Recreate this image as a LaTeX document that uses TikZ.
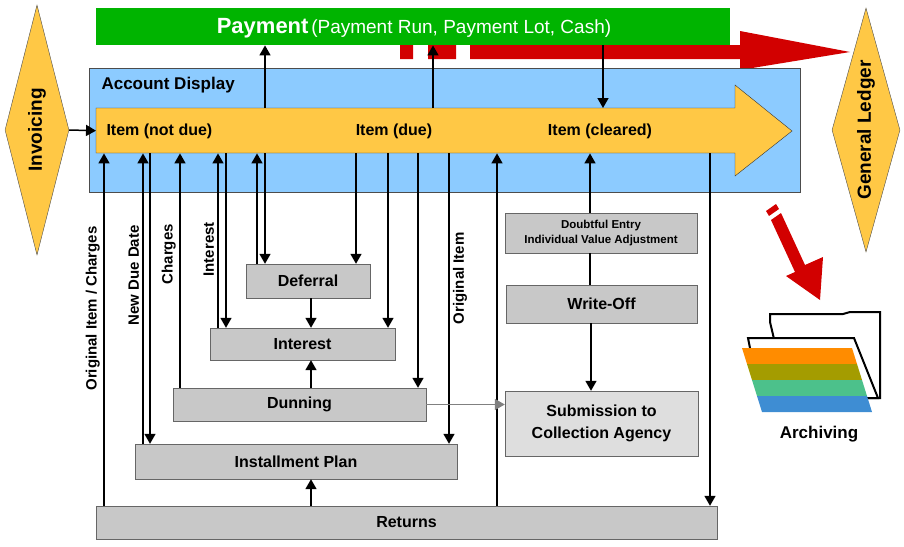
\documentclass[tikz,border=0pt]{standalone}
\usepackage{fontspec}
\setmainfont{Liberation Sans}
\usetikzlibrary{shapes.geometric,arrows.meta}
\definecolor{gold}{HTML}{FFC845}
\definecolor{skyblue}{HTML}{8CCBFF}
\definecolor{payg}{HTML}{00B400}
\definecolor{boxgray}{HTML}{C8C8C8}
\definecolor{darkred}{HTML}{D20000}
\tikzset{
  proc/.style={draw=gray!80!black,fill=boxgray,font=\bfseries\fontsize{16}{18}\selectfont,inner sep=0pt},
  flow/.style={-{Triangle[length=10pt,width=11pt]},line width=1.5pt},
  side/.style={rotate=90,font=\bfseries\fontsize{15}{17}\selectfont},
  ledger/.style={diamond,draw=black!70,fill=gold,aspect=0.27,inner sep=0pt}
}
\begin{document}
\begin{tikzpicture}[x=1pt,y=-1pt]
\useasboundingbox (0,0) rectangle (904,546);
% Side diamonds
\node[ledger,minimum width=64,minimum height=250] (inv) at (37,130) {};
\node[rotate=90,font=\bfseries\fontsize{19}{22}\selectfont] at (inv.center) {Invoicing};
\node[ledger,minimum width=68,minimum height=244] (gl) at (866,130) {};
\node[rotate=90,font=\bfseries\fontsize{19}{22}\selectfont] at (gl.center) {General Ledger};

% Payment bar and red transfer arrow
\node[fill=payg,minimum width=634,minimum height=37,inner sep=0pt,anchor=north west] (pay) at (96,8) {};
\node[white] at (414,28) {{\fontsize{22}{22}\selectfont\bfseries Payment}\ {\fontsize{19}{20}\selectfont(Payment Run, Payment Lot, Cash)}};
\fill[darkred] (400,45) rectangle (413,59) (428,45) rectangle (456,59)
  (470,45) -- (740,45) -- (740,31) -- (850,52) -- (740,70) -- (740,59) -- (470,59) -- cycle;

% Account display
\node[draw=black!70,fill=skyblue,minimum width=711,minimum height=124,inner sep=0pt,anchor=north west] (acc) at (89,68) {};
\node[anchor=west,font=\bfseries\fontsize{17}{20}\selectfont] at (98,85) {Account Display};
\draw[black!80,fill=gold] (96,108) -- (735,108) -- (735,85) -- (792,131) -- (735,176) -- (735,153) -- (96,153) -- cycle;
\node[minimum width=639,minimum height=45,inner sep=0pt,anchor=north west] (item) at (96,108) {};
\node[anchor=west,font=\bfseries\fontsize{16}{18}\selectfont] at (103,131) {Item (not due)};
\node[font=\bfseries\fontsize{16}{18}\selectfont] at (394,131) {Item (due)};
\node[font=\bfseries\fontsize{16}{18}\selectfont] at (600,131) {Item (cleared)};

% Process boxes
\node[proc,minimum width=124,minimum height=34] (def) at (308,281) {Deferral};
\node[proc,minimum width=185,minimum height=32] (int) at (302.5,344) {Interest};
\node[proc,minimum width=253,minimum height=33] (dun) at (299.5,404.5) {Dunning};
\node[proc,minimum width=322,minimum height=35] (inst) at (296,461.5) {Installment Plan};
\node[proc,minimum width=621,minimum height=33] (ret) at (406.5,522.5) {Returns};
\node[proc,minimum width=192,minimum height=40,align=center,font=\bfseries\fontsize{11.5}{15}\selectfont] (doubt) at (601,233) {Doubtful Entry\\Individual Value Adjustment};
\node[proc,minimum width=191,minimum height=38] (wo) at (601.5,304) {Write-Off};
\node[proc,fill=boxgray!60,minimum width=193,minimum height=65,align=center,font=\bfseries\fontsize{16}{22}\selectfont] (sub) at (601.5,423.5) {Submission to\\Collection Agency};

% Connectors
\draw[flow] (inv.east) -- (item.west);
\draw[flow] (item.north -| 265,0) -- (pay.south -| 265,0);
\draw[flow] (item.north -| 433,0) -- (pay.south -| 433,0);
\draw[flow] (pay.south -| 603,0) -- (item.north -| 603,0);
\draw[flow] (ret.north -| 104,0) -- (item.south -| 104,0) node[side,pos=0.56,above] {Original Item / Charges};
\draw[flow] (inst.north -| 143,0) -- (item.south -| 143,0) node[side,pos=0.58,above] {New Due Date};
\draw[flow] (item.south -| 150,0) -- (inst.north -| 150,0);
\draw[flow] (dun.north -| 180,0) -- (item.south -| 180,0) node[side,pos=0.57,above] {Charges};
\draw[flow] (int.north -| 218,0) -- (item.south -| 218,0) node[side,pos=0.45,above] {Interest};
\draw[flow] (item.south -| 226,0) -- (int.north -| 226,0);
\draw[flow] (def.north -| 257,0) -- (item.south -| 257,0);
\draw[flow] (item.south -| 265,0) -- (def.north -| 265,0);
\draw[flow] (item.south -| 356,0) -- (def.north -| 356,0);
\draw[flow] (item.south -| 388,0) -- (int.north -| 388,0);
\draw[flow] (item.south -| 418,0) -- (dun.north -| 418,0);
\draw[flow] (item.south -| 449,0) -- (inst.north -| 449,0) node[side,pos=0.43,below] {Original Item};
\draw[flow] (ret.north -| 497,0) -- (item.south -| 497,0);
\draw[flow] (doubt.north -| 590,0) -- (item.south -| 590,0);
\draw[flow] (item.south -| 710,0) -- (ret.north -| 710,0);
\draw[flow] (def.south -| 311,0) -- (int.north -| 311,0);
\draw[flow] (dun.north -| 311,0) -- (int.south -| 311,0);
\draw[flow] (ret.north -| 311,0) -- (inst.south -| 311,0);
\draw[line width=1.5pt] (doubt.south -| 590,0) -- (wo.north -| 590,0);
\draw[flow] (wo.south -| 591,0) -- (sub.north -| 591,0);
\draw[flow,gray] (dun.east) -- (sub.west |- dun.east);

% Archiving
\fill[darkred] (766,211) -- (776,204) -- (779,209) -- (769,216) -- cycle
  (771,220) -- (781,213) -- (805,265) -- (823,257) -- (820,300) -- (786,276) -- (795,272) -- cycle;
\draw[line width=2pt,fill=white] (770,322) -- (770,314) -- (843,314) -- (850,312) -- (880,312) -- (880,398) -- (788,398) -- cycle;
\draw[line width=2pt,fill=white] (748,338) -- (854,338) -- (878,398) -- (760,398) -- cycle;
\fill[orange!90!yellow] (742,348) -- (852,348) -- (857,364) -- (747,364) -- cycle;
\fill[olive!80!yellow] (747,364) -- (857,364) -- (862,380) -- (752,380) -- cycle;
\fill[teal!70!green!70] (752,380) -- (862,380) -- (867,396) -- (757,396) -- cycle;
\fill[cyan!60!blue!80] (757,396) -- (867,396) -- (872,412) -- (762,412) -- cycle;
\node[font=\bfseries\fontsize{17}{20}\selectfont] (arch) at (819,434) {Archiving};
\end{tikzpicture}
\end{document}
